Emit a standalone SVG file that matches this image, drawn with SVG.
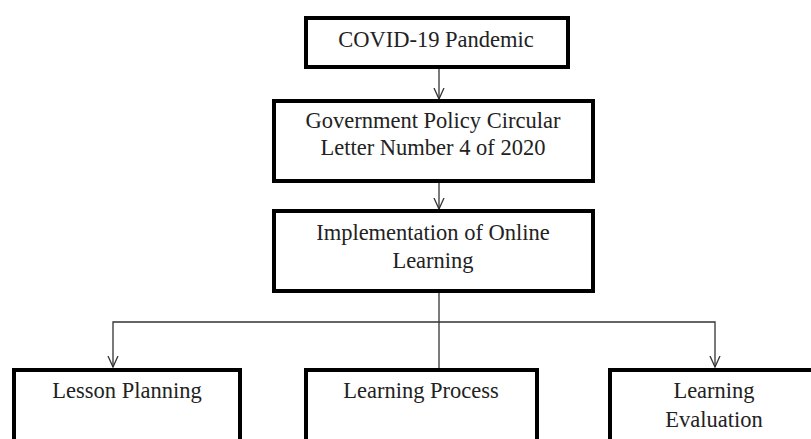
<svg xmlns="http://www.w3.org/2000/svg" width="811" height="439" viewBox="0 0 811 439">
<style>
.box{fill:#fff;stroke:#000;stroke-width:4}
.t{font-family:"Liberation Serif","Times New Roman",serif;font-size:22.5px;fill:#222;text-anchor:middle}
.c{fill:none;stroke:#333;stroke-width:1.3}
</style>
<defs>
<marker id="ah" viewBox="0 0 12 12" refX="11.5" refY="6" markerWidth="12" markerHeight="12" markerUnits="userSpaceOnUse" orient="auto">
<path d="M0.5,1 L11.5,6 L0.5,11" fill="none" stroke="#333" stroke-width="1.3"/>
</marker>
</defs>
<rect width="811" height="439" fill="#fff"/>
<g id="connectors">
<path class="c" d="M439,67 L439,99" marker-end="url(#ah)"/>
<path class="c" d="M439,182 L439,209" marker-end="url(#ah)"/>
<path class="c" d="M439,292 L439,368"/>
<path class="c" d="M439,322 L113,322 L113,367" marker-end="url(#ah)"/>
<path class="c" d="M439,322 L715,322 L715,367" marker-end="url(#ah)"/>
</g>
<g id="n1"><rect class="box" x="306" y="18" width="262" height="49"/><text class="t" x="436" y="47">COVID-19 Pandemic</text></g>
<g id="n2"><rect class="box" x="274" y="101" width="319" height="80"/><text class="t" x="433" y="128">Government Policy Circular</text><text class="t" x="433" y="155">Letter Number 4 of 2020</text></g>
<g id="n3"><rect class="box" x="274" y="211" width="319" height="80"/><text class="t" x="433" y="240">Implementation of Online</text><text class="t" x="433" y="268">Learning</text></g>
<g id="n4"><rect class="box" x="14" y="370" width="226" height="90"/><text class="t" x="127" y="398">Lesson Planning</text></g>
<g id="n5"><rect class="box" x="306" y="370" width="231" height="90"/><text class="t" x="421" y="398">Learning Process</text></g>
<g id="n6"><rect class="box" x="610" y="370" width="210" height="90"/><text class="t" x="714" y="398">Learning</text><text class="t" x="714" y="427">Evaluation</text></g>
</svg>
